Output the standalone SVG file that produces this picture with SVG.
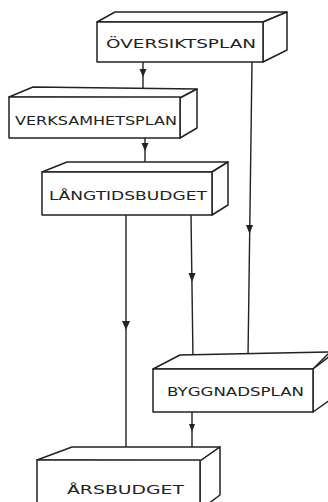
<svg xmlns="http://www.w3.org/2000/svg" width="328" height="502" viewBox="0 0 328 502">
<defs>
<style>
.box{fill:#fff;stroke:#222;stroke-width:1.5;stroke-linejoin:round}
.lbl{font-family:"DejaVu Sans","Liberation Sans",sans-serif;font-size:12px;fill:#222;text-anchor:start}
.con{stroke:#222;stroke-width:1.4;fill:none}
.ah{fill:#222;stroke:none}
</style>
</defs>
<rect width="328" height="502" fill="#fff"/>
<g id="connectors">
<line class="con" x1="143" y1="62" x2="143" y2="88"/>
<polygon class="ah" points="139.5,69 146.5,69 143,77"/>
<line class="con" x1="145" y1="138" x2="145" y2="163"/>
<polygon class="ah" points="141.5,143 148.5,143 145,151"/>
<line class="con" x1="252" y1="62" x2="248" y2="357"/>
<polygon class="ah" points="246,225 253,225 249.5,234"/>
<line class="con" x1="126" y1="215" x2="126" y2="453"/>
<polygon class="ah" points="122,321 130,321 126,330"/>
<line class="con" x1="191" y1="215" x2="193" y2="360"/>
<polygon class="ah" points="188.5,273 195.5,273 192,282"/>
<line class="con" x1="192" y1="412" x2="192" y2="453"/>
<polygon class="ah" points="189,424 195,424 192,432"/>
</g>
<g id="n1">
<polygon class="box" points="97,22 115,12 287,12 263,22"/>
<polygon class="box" points="263,22 287,12 287,50 263,62"/>
<rect class="box" x="97" y="22" width="166" height="40"/>
<text class="lbl" x="106" y="48" textLength="150" lengthAdjust="spacingAndGlyphs">ÖVERSIKTSPLAN</text>
</g>
<g id="n2">
<polygon class="box" points="9,97 33,87 197,89 180,98"/>
<polygon class="box" points="180,98 197,89 197,128 180,138"/>
<rect class="box" x="9" y="97" width="171" height="41"/>
<text class="lbl" x="15" y="125" textLength="162" lengthAdjust="spacingAndGlyphs">VERKSAMHETSPLAN</text>
</g>
<g id="n3">
<polygon class="box" points="42,172 67,162 228,162 212,172"/>
<polygon class="box" points="212,172 228,162 228,205 212,215"/>
<rect class="box" x="42" y="172" width="170" height="43"/>
<text class="lbl" x="49" y="200" textLength="158" lengthAdjust="spacingAndGlyphs">LÅNGTIDSBUDGET</text>
</g>
<g id="n4">
<polygon class="box" points="153,369 180,355 330,352 313,369"/>
<polygon class="box" points="313,369 330,356 330,400 313,412"/>
<rect class="box" x="153" y="369" width="160" height="43"/>
<text class="lbl" x="167" y="396" textLength="137" lengthAdjust="spacingAndGlyphs">BYGGNADSPLAN</text>
</g>
<g id="n5">
<polygon class="box" points="37,460 72,447 220,447 200,461"/>
<polygon class="box" points="200,461 220,447 220,495 200,510"/>
<rect class="box" x="37" y="460" width="163" height="50"/>
<text class="lbl" x="67" y="494" textLength="117" lengthAdjust="spacingAndGlyphs">ÅRSBUDGET</text>
</g>
</svg>
